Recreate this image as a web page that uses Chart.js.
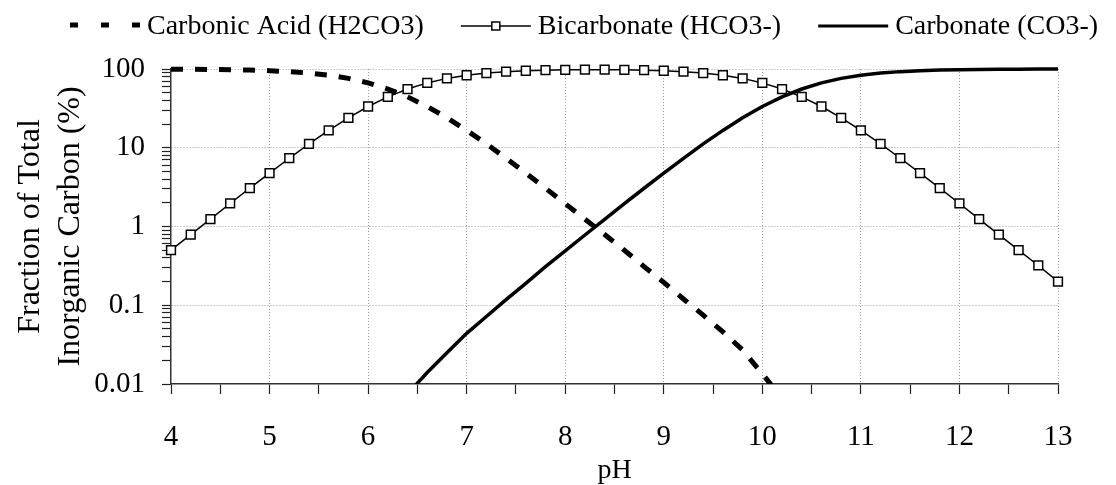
<!DOCTYPE html>
<html>
<head>
<meta charset="utf-8">
<script src="https://cdn.jsdelivr.net/npm/chart.js@4/dist/chart.umd.min.js"></script>
<style>
  body { margin: 0; background: #fff; }
  #wrap { width: 1116px; height: 485px; }
</style>
</head>
<body>
<div id="wrap"><canvas id="speciesChart" width="1116" height="485"></canvas></div>
<script>
// pH values (x)
const ph = [4.0, 4.2, 4.4, 4.6, 4.8, 5.0, 5.2, 5.4, 5.6, 5.8,
            6.0, 6.2, 6.4, 6.6, 6.8, 7.0, 7.2, 7.4, 7.6, 7.8,
            8.0, 8.2, 8.4, 8.6, 8.8, 9.0, 9.2, 9.4, 9.6, 9.8,
            10.0, 10.2, 10.4, 10.6, 10.8, 11.0, 11.2, 11.4, 11.6, 11.8,
            12.0, 12.2, 12.4, 12.6, 12.8, 13.0];

// fraction of total inorganic carbon (%)
const carbonicAcid = [99.5, 99.2, 98.8, 98.0, 96.9, 95.2, 92.6, 88.8, 83.4, 76.0,
                      66.6, 55.7, 44.3, 33.4, 24.0, 16.6, 11.2, 7.36, 4.77, 3.06,
                      1.95, 1.24, 0.79, 0.50, 0.31, 0.195, 0.12, 0.075, 0.046, 0.027,
                      0.0135, 0.0065, null, null, null, null, null, null, null, null,
                      null, null, null, null, null, null];
const bicarbonate = [0.50, 0.79, 1.24, 1.96, 3.07, 4.77, 7.36, 11.2, 16.6, 24.0,
                     33.4, 44.3, 55.7, 66.6, 76.0, 83.3, 88.7, 92.5, 95.0, 96.6,
                     97.6, 98.0, 98.0, 97.6, 96.6, 95.0, 92.5, 88.7, 83.3, 76.0,
                     66.6, 55.7, 44.3, 33.4, 24.0, 16.6, 11.2, 7.36, 4.77, 3.07,
                     1.96, 1.24, 0.79, 0.50, 0.32, 0.20];
const carbonate = [null, null, null, null, null, null, null, null, null, null,
                   null, null, 0.0075, 0.014, 0.025, 0.044, 0.072, 0.118, 0.19, 0.31,
                   0.49, 0.78, 1.23, 1.95, 3.06, 4.76, 7.35, 11.2, 16.6, 24.0,
                   33.4, 44.3, 55.7, 66.6, 76.0, 83.4, 88.8, 92.6, 95.2, 96.9,
                   98.0, 98.8, 99.2, 99.5, 99.7, 99.8];

const seriesNames = ['Carbonic Acid (H2CO3)', 'Bicarbonate (HCO3-)', 'Carbonate (CO3-)'];

// axis ticks
const xMajor = [4, 5, 6, 7, 8, 9, 10, 11, 12, 13];
const yMajor = [0.01, 0.1, 1, 10, 100];
const yLabels = ['0.01', '0.1', '1', '10', '100'];

const toPoints = arr => ph.map((x, i) => ({ x: x, y: arr[i] }));

Chart.defaults.font.family = '"Liberation Serif", "Times New Roman", serif';
Chart.defaults.color = '#000';

// legend drawn across the top, with the line styles of each series
const topLegend = {
    id: 'topLegend',
    afterDraw(chart) {
        const ctx = chart.ctx;
        const y = 26;
        let x = 70;
        ctx.save();
        ctx.font = '28px "Liberation Serif"';
        ctx.textBaseline = 'middle';
        ctx.fillStyle = '#000';
        ctx.strokeStyle = '#000';
        seriesNames.forEach((name, i) => {
            ctx.save();
            ctx.beginPath();
            if (i === 0) {
                ctx.lineWidth = 5;
                ctx.setLineDash([8, 23]);
                ctx.moveTo(x, y - 1); ctx.lineTo(x + 70, y - 1);
            } else {
                ctx.lineWidth = i === 1 ? 1.5 : 3;
                ctx.moveTo(x, y); ctx.lineTo(x + 70, y);
            }
            ctx.stroke();
            if (i === 1) {
                ctx.fillStyle = '#fff';
                ctx.lineWidth = 1.5;
                ctx.fillRect(x + 31, y - 4, 8, 8);
                ctx.strokeRect(x + 31, y - 4, 8, 8);
            }
            ctx.restore();
            x += 77;
            ctx.fillText(name, x, y + 1);
            x += ctx.measureText(name).width + 37;
        });
        ctx.restore();
    }
};

const config = {
    type: 'line',
    data: {
        datasets: [
            {
                label: seriesNames[0],
                data: toPoints(carbonicAcid),
                borderColor: '#000',
                borderWidth: 5,
                borderDash: [12, 12],
                pointRadius: 0,
                tension: 0,
                clip: { left: 10, top: 10, right: 10, bottom: 0 }
            },
            {
                label: seriesNames[1],
                data: toPoints(bicarbonate),
                borderColor: '#000',
                borderWidth: 1.5,
                pointStyle: 'rect',
                pointRadius: 6.2,
                pointBorderWidth: 1.5,
                pointBorderColor: '#000',
                pointBackgroundColor: '#fff',
                tension: 0,
                clip: false
            },
            {
                label: seriesNames[2],
                data: toPoints(carbonate),
                borderColor: '#000',
                borderWidth: 3.5,
                pointRadius: 0,
                tension: 0,
                clip: { left: 10, top: 10, right: 10, bottom: 0 }
            }
        ]
    },
    options: {
        responsive: false,
        animation: false,
        layout: { padding: { left: 11, top: 69, right: 58, bottom: 0 } },
        plugins: {
            legend: { display: false },
            tooltip: { enabled: false }
        },
        scales: {
            x: {
                type: 'linear',
                min: 4,
                max: 13,
                afterBuildTicks: scale => {
                    const ticks = [];
                    xMajor.forEach((v, i) => {
                        ticks.push({ value: v });
                        if (i < xMajor.length - 1) ticks.push({ value: v + 0.5 });
                    });
                    scale.ticks = ticks;
                },
                afterFit: scale => { scale.height = 101; },
                ticks: {
                    autoSkip: false,
                    maxRotation: 0,
                    padding: 26,
                    font: { size: 29 },
                    callback: v => xMajor.includes(v) ? String(v) : ''
                },
                grid: {
                    color: c => (xMajor.includes(c.tick.value) && c.tick.value > 4) ? '#9a9a9a' : 'rgba(0,0,0,0)',
                    lineWidth: 1,
                    tickColor: '#222',
                    tickLength: 10,
                    tickWidth: 1.2
                },
                border: { color: '#333', width: 1.5, dash: [1, 2] },
                title: {
                    display: true,
                    text: 'pH',
                    font: { size: 28, lineHeight: 1 },
                    padding: 0
                }
            },
            y: {
                type: 'logarithmic',
                min: 0.01,
                max: 100,
                afterBuildTicks: scale => {
                    const ticks = [];
                    yMajor.forEach((d, i) => {
                        ticks.push({ value: d });
                        if (i < yMajor.length - 1) {
                            for (let m = 2; m <= 9; m++) ticks.push({ value: m * d });
                        }
                    });
                    scale.ticks = ticks;
                },
                afterFit: scale => { scale.width = 160; },
                ticks: {
                    autoSkip: false,
                    padding: 17,
                    font: { size: 29 },
                    callback: v => {
                        const i = yMajor.indexOf(v);
                        return i >= 0 ? yLabels[i] : '';
                    }
                },
                grid: {
                    color: c => (yMajor.includes(c.tick.value) && c.tick.value > 0.01) ? '#9a9a9a' : 'rgba(0,0,0,0)',
                    lineWidth: 1,
                    tickColor: '#222',
                    tickLength: 9,
                    tickWidth: 1.2
                },
                border: { color: '#333', width: 1.5, dash: [1, 2] },
                title: {
                    display: true,
                    text: ['Fraction of Total', 'Inorganic Carbon (%)'],
                    font: { size: 32, lineHeight: 1.25 },
                    padding: 0
                }
            }
        }
    },
    plugins: [topLegend]
};

const ctx = document.getElementById('speciesChart').getContext('2d');
new Chart(ctx, config);
</script>
</body>
</html>
